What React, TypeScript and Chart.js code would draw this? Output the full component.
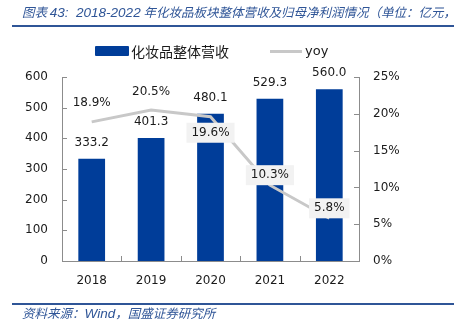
import React, { useEffect, useRef } from "react";
import { Chart, registerables } from "chart.js";
Chart.register(...registerables);

const years = ["2018", "2019", "2020", "2021", "2022"];
const revenue = [333.2, 401.3, 480.1, 529.3, 560.0];
const yoy = [18.9, 20.5, 19.6, 10.3, 5.8];
const leftMax = 600;
const leftStep = 100;
const rightMax = 25;
const rightStep = 5;

const titleParts = ["图表 ", "43:  2018-2022", " 年化妆品板块整体营收及归母净利润情况（单位：亿元，%）"];
const sourceParts = ["资料来源：", "Wind", "，国盛证券研究所"];
const barLegend = "化妆品整体营收";
const lineLegend = "yoy";

const FONT = "'DejaVu Sans', 'Noto Sans', sans-serif";
const BAR = "#003D99";
const LINE = "#C8C8C8";
const AXIS = "#8C8C8C";
const TEXT = "#1A1A1A";
const BLUE = "#2F5597";

// label placement styles for the yoy series (offset from point, optional box)
const yoyOffset = [-19, -18, 16, -10, -10];
const yoyBox = [false, false, true, true, true];

const labelPlugin = {
  id: "valueLabels",
  afterDatasetsDraw(chart: any) {
    const ctx = chart.ctx;
    ctx.save();
    ctx.font = `12px ${FONT}`;
    ctx.textAlign = "center";
    ctx.textBaseline = "middle";
    const bars = chart.getDatasetMeta(0).data;
    bars.forEach((el: any, i: number) => {
      ctx.fillStyle = TEXT;
      ctx.fillText(revenue[i].toFixed(1), el.x, el.y - 16);
    });
    const pts = chart.getDatasetMeta(1).data;
    pts.forEach((p: any, i: number) => {
      const t = yoy[i].toFixed(1) + "%";
      const cy = p.y + yoyOffset[i];
      if (yoyBox[i]) {
        const w = ctx.measureText(t).width + 10;
        ctx.fillStyle = "#F2F2F2";
        ctx.fillRect(p.x - w / 2, cy - 10, w, 20);
      }
      ctx.fillStyle = TEXT;
      ctx.fillText(t, p.x, cy);
    });
    ctx.restore();
  },
  afterDraw(chart: any) {
    const ctx = chart.ctx;
    const a = chart.chartArea;
    ctx.save();
    ctx.strokeStyle = AXIS;
    ctx.lineWidth = 1;
    const yl = chart.scales.y;
    const yr = chart.scales.y1;
    ctx.beginPath();
    yl.ticks.forEach((t: any) => {
      const y = Math.round(yl.getPixelForValue(t.value)) + 0.5;
      ctx.moveTo(a.left, y);
      ctx.lineTo(a.left + 5, y);
    });
    yr.ticks.forEach((t: any) => {
      const y = Math.round(yr.getPixelForValue(t.value)) + 0.5;
      ctx.moveTo(a.right - 5, y);
      ctx.lineTo(a.right, y);
    });
    const n = years.length;
    for (let k = 0; k <= n; k++) {
      const x = Math.round(a.left + ((a.right - a.left) * k) / n) + 0.5;
      ctx.moveTo(x, a.bottom);
      ctx.lineTo(x, a.bottom - 5);
    }
    ctx.stroke();
    ctx.restore();
  },
};

export default function App() {
  const ref = useRef<HTMLCanvasElement>(null);
  useEffect(() => {
    document.body.style.margin = "0";
    const chart = new Chart(ref.current as HTMLCanvasElement, {
      data: {
        labels: years,
        datasets: [
          {
            type: "bar" as const,
            label: barLegend,
            data: revenue,
            yAxisID: "y",
            backgroundColor: BAR,
            barPercentage: 0.9,
            categoryPercentage: 0.5,
            order: 1,
          },
          {
            type: "line" as const,
            label: lineLegend,
            data: yoy,
            yAxisID: "y1",
            borderColor: LINE,
            backgroundColor: LINE,
            borderWidth: 3,
            pointRadius: 0,
            tension: 0,
            order: 0,
          },
        ],
      } as any,
      options: {
        responsive: true,
        maintainAspectRatio: false,
        animation: false,
        layout: { padding: { top: 77, left: 0, right: 0, bottom: 0 } },
        plugins: { legend: { display: false }, tooltip: { enabled: false } },
        scales: {
          x: {
            offset: true,
            grid: { display: false, drawTicks: false },
            border: { display: true, color: AXIS, width: 1 },
            ticks: { color: TEXT, font: { family: FONT, size: 12 }, padding: 13 },
            afterFit: (s: any) => {
              s.height = 62;
            },
          },
          y: {
            position: "left",
            min: 0,
            max: leftMax,
            grid: { display: false, drawTicks: false },
            border: { display: true, color: AXIS, width: 1 },
            ticks: { stepSize: leftStep, color: TEXT, font: { family: FONT, size: 12 }, padding: 14 },
            afterFit: (s: any) => {
              s.width = 62;
            },
          },
          y1: {
            position: "right",
            min: 0,
            max: rightMax,
            grid: { display: false, drawTicks: false },
            border: { display: true, color: AXIS, width: 1 },
            ticks: {
              stepSize: rightStep,
              color: TEXT,
              font: { family: FONT, size: 12 },
              padding: 14,
              callback: (v: any) => v + "%",
            },
            afterFit: (s: any) => {
              s.width = 95;
            },
          },
        },
      } as any,
      plugins: [labelPlugin],
    });
    return () => chart.destroy();
  }, []);

  const cjkStyle = { fontFamily: "'Noto Sans CJK SC', sans-serif", fontSize: 12.5 };
  const latStyle = { fontFamily: "'Liberation Sans', sans-serif", fontSize: 13.5 };
  return (
    <div style={{ position: "fixed", left: 0, top: 0, width: 454, height: 323, background: "#fff", overflow: "hidden" }}>
      <canvas ref={ref} style={{ position: "absolute", left: 0, top: 0 }} />
      <div style={{ position: "absolute", left: 22, top: 3, whiteSpace: "pre", fontStyle: "italic", color: BLUE, lineHeight: "18px" }}>
        <span style={cjkStyle}>{titleParts[0]}</span>
        <span style={latStyle}>{titleParts[1]}</span>
        <span style={cjkStyle}>{titleParts[2]}</span>
      </div>
      <div style={{ position: "absolute", left: 12, top: 25, width: 442, height: 2, background: BLUE }} />
      <div style={{ position: "absolute", left: 95, top: 46, width: 34, height: 10, background: BAR, borderRadius: 1 }} />
      <div style={{ position: "absolute", left: 131, top: 42, fontFamily: "'Noto Sans CJK SC', sans-serif", fontSize: 14, color: TEXT, lineHeight: "18px", whiteSpace: "nowrap" }}>
        {barLegend}
      </div>
      <div style={{ position: "absolute", left: 270, top: 50, width: 32, height: 3, background: LINE }} />
      <div style={{ position: "absolute", left: 305, top: 42, fontFamily: FONT, fontSize: 13, color: TEXT, lineHeight: "18px" }}>{lineLegend}</div>
      <div style={{ position: "absolute", left: 12, top: 303, width: 442, height: 2, background: BLUE }} />
      <div style={{ position: "absolute", left: 22, top: 305, whiteSpace: "pre", fontStyle: "italic", color: BLUE, lineHeight: "16px" }}>
        <span style={cjkStyle}>{sourceParts[0]}</span>
        <span style={latStyle}>{sourceParts[1]}</span>
        <span style={cjkStyle}>{sourceParts[2]}</span>
      </div>
    </div>
  );
}
